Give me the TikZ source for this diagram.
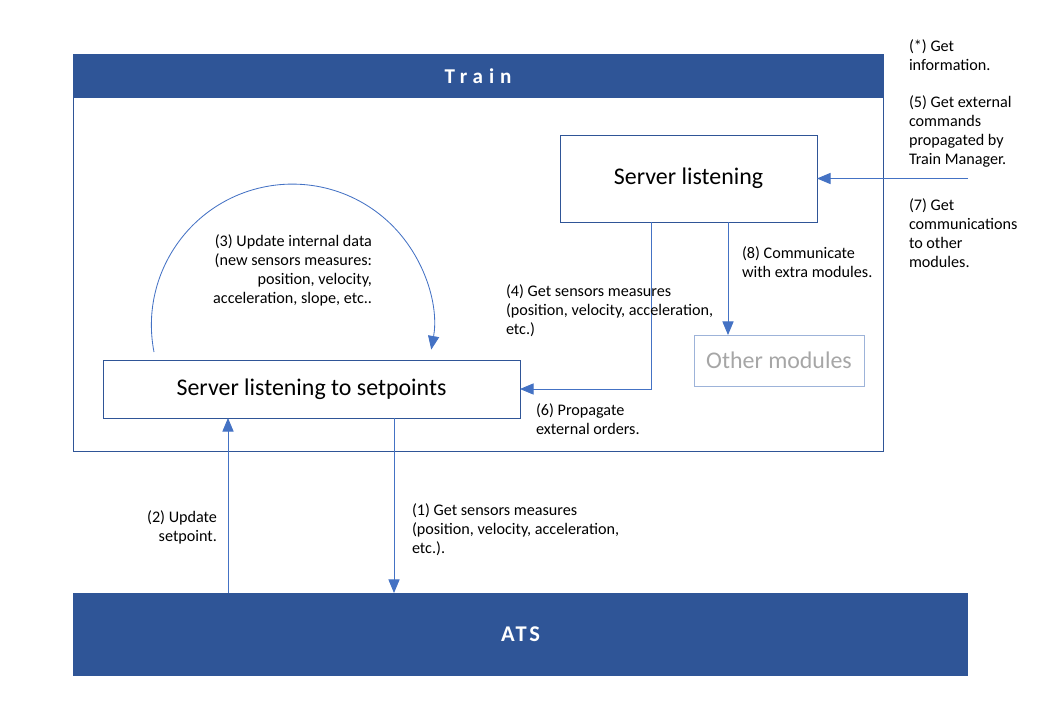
\documentclass[tikz,border=0pt]{standalone}
\usepackage{fontspec}
\setmainfont{Carlito}
\usepackage{tikz}
\usepackage{xcolor}
\usetikzlibrary{arrows.meta,calc,positioning}

\definecolor{trainblue}{HTML}{2F5597}
\definecolor{flowblue}{HTML}{4472C4}
\definecolor{softframe}{HTML}{9DB3D9}
\definecolor{softtext}{HTML}{A6A6A6}

\begin{document}
\begin{tikzpicture}[x=0.25mm, y=0.25mm,
    box/.style={draw=trainblue, line width=0.6pt, inner sep=0pt, outer sep=0pt,
                font=\fontsize{17}{20}\selectfont},
    band/.style={fill=trainblue, inner sep=0pt, outer sep=0pt, text=white},
    flow/.style={draw=flowblue, line width=0.6pt, -{Triangle[length=3.4mm, width=2.8mm]}},
    note/.style={inner sep=0pt, outer sep=0pt, font=\fontsize{11.5}{13.5}\selectfont}]
  \useasboundingbox (0,0) rectangle (1040,720);

  % Train frame with its title band
  \draw[trainblue, line width=0.6pt] (73,269) rectangle (883,666);
  \node[band, minimum width=202.5mm, minimum height=11mm,
        font=\fontsize{15}{17}\selectfont\bfseries\addfontfeatures{LetterSpace=28}] (train) at (478,644) {Train};

  % servers inside the train
  \node[box, minimum width=64.25mm, minimum height=21.75mm] (server) at (688.5,541.5) {Server listening};
  \node[box, minimum width=104.25mm, minimum height=14.5mm] (setpoints) at (311.5,331) {Server listening to setpoints};
  \node[box, draw=softframe, text=softtext, minimum width=42.5mm, minimum height=12.75mm] (others) at (779,359.5) {Other modules};

  % ATS band at the bottom
  \node[band, minimum width=223.75mm, minimum height=20.75mm,
        font=\fontsize{16}{18}\selectfont\bfseries\addfontfeatures{LetterSpace=12}] (ats) at (520.5,85.5) {ATS};

  % outside input on the right
  \coordinate (outside) at (968,541.5);
  \draw[flow] (outside) -- (server.east);

  % internal connectors
  \draw[flow] (server.south -| 651,0) |- (setpoints.east);
  \draw[flow] (server.south -| 728,0) -- (others.north -| 728,0);
  \draw[flow] ($(setpoints.north west)+(51,8)$) arc[start angle=191, end angle=-10, radius=141];

  % train <-> ATS
  \draw[flow] (ats.north -| 228,0) -- (setpoints.south -| 228,0);
  \draw[flow] (setpoints.south -| 394,0) -- (ats.north -| 394,0);

  % labels
  \node[note, anchor=north west, align=left] (infolabel) at (909,680) {(*) Get\\information.};
  \node[note, anchor=north west, align=left] (cmdlabel) at (909,624) {(5) Get external\\commands\\propagated by\\Train Manager.};
  \node[note, anchor=north west, align=left] (commlabel) at (909,521) {(7) Get\\communications\\to other\\modules.};
  \node[note, anchor=north east, align=right] (looplabel) at (372,485)
    {(3) Update internal data\\(new sensors measures:\\position, velocity,\\acceleration, slope, etc..};
  \node[note, anchor=north west, align=left] (measlabel) at (506,435)
    {(4) Get sensors measures\\(position, velocity, acceleration,\\etc.)};
  \node[note, anchor=north west, align=left] (extralabel) at (742,473) {(8) Communicate\\with extra modules.};
  \node[note, anchor=north west, align=left] (orderlabel) at (536,316) {(6) Propagate\\external orders.};
  \node[note, anchor=north east, align=right] (setlabel) at (217,209) {(2) Update\\setpoint.};
  \node[note, anchor=north west, align=left] (atslabel) at (412,216)
    {(1) Get sensors measures\\(position, velocity, acceleration,\\etc.).};
\end{tikzpicture}
\end{document}
